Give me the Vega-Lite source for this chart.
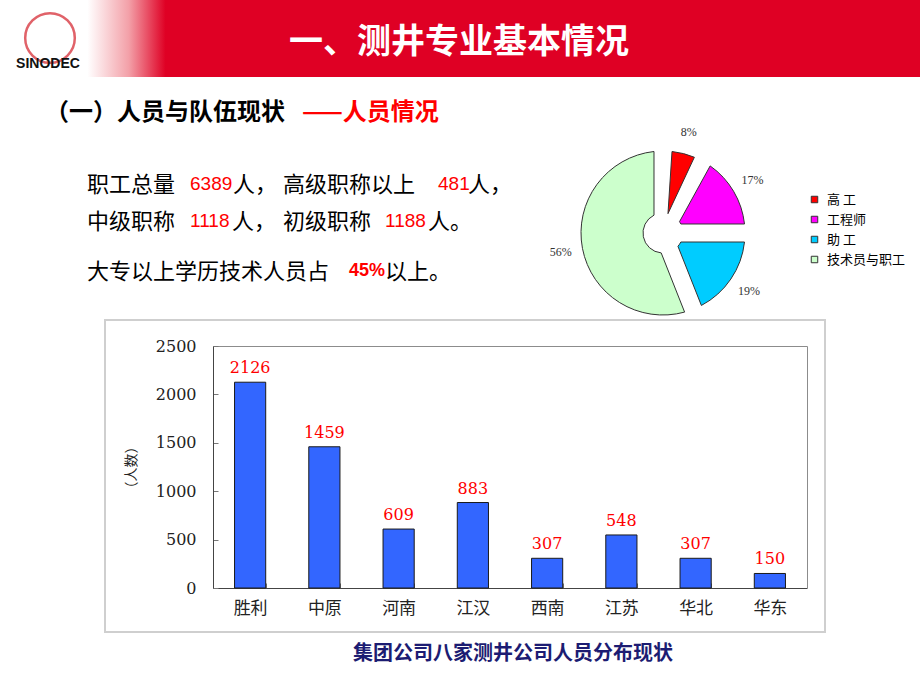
{
  "$schema": "https://vega.github.io/schema/vega-lite/v6.json",
  "width": 920,
  "height": 690,
  "autosize": {"type": "none"},
  "padding": 0,
  "background": "white",
  "config": {"view": {"stroke": null}, "font": "Noto Sans CJK SC"},
  "data": {"values": [{
    "title": "一、测井专业基本情况", "logo": "SINODEC",
    "s1": "（一）人员与队伍现状", "s2": "——人员情况",
    "a1": "职工总量", "a2": "6389", "a3": "人，", "a4": "高级职称以上", "a5": "481", "a6": "人，",
    "b1": "中级职称", "b2": "1118", "b3": "人，", "b4": "初级职称", "b5": "1188", "b6": "人。",
    "c1": "大专以上学历技术人员占", "c2": "45%", "c3": "以上。",
    "cap": "集团公司八家测井公司人员分布现状"
  }]},
  "layer": [
    {"mark": {"type": "rect", "x": 0, "x2": 920, "y": 0, "y2": 77,
      "fill": {"gradient": "linear", "x1": 0, "x2": 1, "y1": 0, "y2": 0,
        "stops": [{"offset": 0, "color": "#ffffff"}, {"offset": 0.095, "color": "#ffffff"}, {"offset": 0.14, "color": "#f3a0a8"}, {"offset": 0.18, "color": "#df0024"}, {"offset": 1, "color": "#df0024"}]}},
      "encoding": {}},
    {"mark": {"type": "point", "shape": "circle", "x": 50, "y": 38, "size": 2460, "filled": false, "stroke": "#d4202a", "strokeWidth": 2.5}, "encoding": {}},
    {"mark": {"type": "text", "x": 48, "y": 64, "align": "center", "baseline": "middle", "font": "Liberation Sans", "fontSize": 14, "fontWeight": "bold", "color": "#111111"}, "encoding": {"text": {"field": "logo"}}},
    {"mark": {"type": "text", "x": 459, "y": 43, "align": "center", "baseline": "middle", "fontSize": 34, "fontWeight": "bold", "color": "#ffffff"}, "encoding": {"text": {"field": "title"}}},

    {"mark": {"type": "text", "x": 45, "y": 113, "align": "left", "baseline": "middle", "fontSize": 24, "fontWeight": "bold", "color": "#000000"}, "encoding": {"text": {"field": "s1"}}},
    {"mark": {"type": "text", "x": 302, "y": 113, "align": "left", "baseline": "middle", "fontSize": 24, "fontWeight": "bold", "color": "#ff0000"}, "encoding": {"text": {"field": "s2"}}},

    {"mark": {"type": "text", "x": 87, "y": 185, "align": "left", "baseline": "middle", "fontSize": 22, "color": "#000000"}, "encoding": {"text": {"field": "a1"}}},
    {"mark": {"type": "text", "x": 190, "y": 184, "align": "left", "baseline": "middle", "font": "Liberation Sans", "fontSize": 19, "color": "#ff0000"}, "encoding": {"text": {"field": "a2"}}},
    {"mark": {"type": "text", "x": 233, "y": 185, "align": "left", "baseline": "middle", "fontSize": 22, "color": "#000000"}, "encoding": {"text": {"field": "a3"}}},
    {"mark": {"type": "text", "x": 283, "y": 185, "align": "left", "baseline": "middle", "fontSize": 22, "color": "#000000"}, "encoding": {"text": {"field": "a4"}}},
    {"mark": {"type": "text", "x": 438, "y": 184, "align": "left", "baseline": "middle", "font": "Liberation Sans", "fontSize": 19, "color": "#ff0000"}, "encoding": {"text": {"field": "a5"}}},
    {"mark": {"type": "text", "x": 468, "y": 185, "align": "left", "baseline": "middle", "fontSize": 22, "color": "#000000"}, "encoding": {"text": {"field": "a6"}}},

    {"mark": {"type": "text", "x": 87, "y": 222, "align": "left", "baseline": "middle", "fontSize": 22, "color": "#000000"}, "encoding": {"text": {"field": "b1"}}},
    {"mark": {"type": "text", "x": 190, "y": 221, "align": "left", "baseline": "middle", "font": "Liberation Sans", "fontSize": 19, "color": "#ff0000"}, "encoding": {"text": {"field": "b2"}}},
    {"mark": {"type": "text", "x": 232, "y": 222, "align": "left", "baseline": "middle", "fontSize": 22, "color": "#000000"}, "encoding": {"text": {"field": "b3"}}},
    {"mark": {"type": "text", "x": 283, "y": 222, "align": "left", "baseline": "middle", "fontSize": 22, "color": "#000000"}, "encoding": {"text": {"field": "b4"}}},
    {"mark": {"type": "text", "x": 385, "y": 221, "align": "left", "baseline": "middle", "font": "Liberation Sans", "fontSize": 19, "color": "#ff0000"}, "encoding": {"text": {"field": "b5"}}},
    {"mark": {"type": "text", "x": 428, "y": 222, "align": "left", "baseline": "middle", "fontSize": 22, "color": "#000000"}, "encoding": {"text": {"field": "b6"}}},

    {"mark": {"type": "text", "x": 87, "y": 272, "align": "left", "baseline": "middle", "fontSize": 22, "color": "#000000"}, "encoding": {"text": {"field": "c1"}}},
    {"mark": {"type": "text", "x": 349, "y": 271, "align": "left", "baseline": "middle", "font": "Liberation Sans", "fontSize": 18, "fontWeight": "bold", "color": "#ff0000"}, "encoding": {"text": {"field": "c2"}}},
    {"mark": {"type": "text", "x": 385, "y": 272, "align": "left", "baseline": "middle", "fontSize": 22, "color": "#000000"}, "encoding": {"text": {"field": "c3"}}},

    {"mark": {"type": "rule", "x": 545, "x2": 907, "y": 125, "y2": 125, "color": "#cccccc", "strokeWidth": 1.5}, "encoding": {}},

    {
      "data": {"values": [
        {"cat": "高 工", "share": 0.08, "k": 1},
        {"cat": "工程师", "share": 0.17, "k": 2},
        {"cat": "助 工", "share": 0.19, "k": 3},
        {"cat": "技术员与职工", "share": 0.56, "k": 4}
      ]},
      "encoding": {
        "theta": {"field": "share", "type": "quantitative", "stack": true},
        "order": {"field": "k", "type": "quantitative"}
      },
      "layer": [
        {
          "mark": {"type": "arc", "x": 663, "y": 233, "radius": 82, "radius2": 20, "padAngle": 0.214, "stroke": "#333333", "strokeWidth": 1},
          "encoding": {
            "color": {"field": "cat", "type": "nominal",
              "scale": {"domain": ["高 工", "工程师", "助 工", "技术员与职工"], "range": ["#ff0000", "#ff00ff", "#00ccff", "#ccffcc"]},
              "legend": {"orient": "none", "legendX": 808, "legendY": 193, "title": null, "symbolType": "square", "symbolSize": 42,
                "symbolStrokeColor": "#333333", "symbolStrokeWidth": 1, "labelFont": "Noto Sans CJK SC", "labelFontSize": 13,
                "labelColor": "#000000", "rowPadding": 6, "labelOffset": 6, "padding": 0}}
          }
        },
        {
          "mark": {"type": "text", "x": 663, "y": 233, "radius": 104, "font": "Liberation Serif", "fontSize": 12, "color": "#333333"},
          "encoding": {"text": {"field": "share", "type": "quantitative", "format": ".0%"}}
        }
      ]
    },

    {"mark": {"type": "rect", "x": 105, "x2": 825, "y": 320, "y2": 632, "fill": "transparent", "stroke": "#cfcfcf", "strokeWidth": 2}, "encoding": {}},

    {
      "data": {"values": [
        {"company": "胜利", "n": 2126},
        {"company": "中原", "n": 1459},
        {"company": "河南", "n": 609},
        {"company": "江汉", "n": 883},
        {"company": "西南", "n": 307},
        {"company": "江苏", "n": 548},
        {"company": "华北", "n": 307},
        {"company": "华东", "n": 150}
      ]},
      "encoding": {
        "x": {"field": "company", "type": "nominal", "sort": null,
          "scale": {"paddingInner": 0.58, "paddingOuter": 0.29, "range": [213, 807]}},
        "y": {"field": "n", "type": "quantitative", "scale": {"domain": [0, 2500], "nice": false, "range": [588, 346]}}
      },
      "layer": [
        {"mark": {"type": "bar", "color": "#3366ff", "stroke": "#1a1a1a", "strokeWidth": 1},
          "encoding": {
            "x": {"field": "company", "type": "nominal", "sort": null,
              "axis": {"title": null, "orient": "bottom", "offset": -102, "labelAngle": 0, "labelFont": "Noto Sans CJK SC", "labelFontSize": 17, "labelColor": "#222222",
                "tickBand": "extent", "tickSize": -5, "tickColor": "#777777", "domainColor": "#444444", "labelPadding": 17}},
            "y": {"field": "n", "type": "quantitative",
              "axis": {"title": "（人数）", "orient": "left", "offset": -213, "values": [0, 500, 1000, 1500, 2000, 2500], "format": "d", "grid": false,
                "labelFont": "DejaVu Serif", "labelFontSize": 16, "labelColor": "#222222", "tickSize": -5, "tickColor": "#777777",
                "domainColor": "#444444", "labelPadding": 22,
                "titleFont": "Noto Sans CJK SC", "titleFontSize": 14, "titleFontWeight": "normal", "titleColor": "#222222",
                "titleX": -82, "titleY": 467, "titleBaseline": "middle", "titleAlign": "center", "titleAngle": -90}}
          }},
        {"mark": {"type": "text", "dy": -9, "baseline": "alphabetic", "font": "DejaVu Serif", "fontSize": 16, "color": "#ff0000"},
          "encoding": {
            "text": {"field": "n", "type": "quantitative"},
            "x": {"field": "company", "type": "nominal", "sort": null,
              "axis": {"title": null, "orient": "top", "offset": -346, "labels": false, "ticks": false, "domainColor": "#8c8c8c"}},
            "y": {"field": "n", "type": "quantitative",
              "axis": {"title": null, "orient": "right", "offset": -113, "labels": false, "ticks": false, "grid": false, "domainColor": "#8c8c8c"}}
          }}
      ],
      "resolve": {"axis": {"x": "independent", "y": "independent"}}
    },

    {"mark": {"type": "text", "x": 513, "y": 654, "align": "center", "baseline": "middle", "fontSize": 20, "fontWeight": "bold", "color": "#1c1c72"}, "encoding": {"text": {"field": "cap"}}}
  ]
}
